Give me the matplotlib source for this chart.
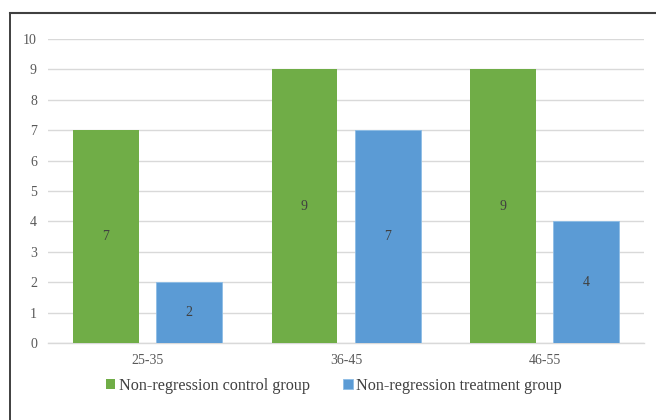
import matplotlib
matplotlib.use('Agg')
from matplotlib import pyplot as plt
from matplotlib.lines import Line2D
import numpy as np

categories = ['25-35', '36-45', '46-55']
control = [7, 9, 9]
treatment = [2, 7, 4]
series_names = ['Non-regression control group', 'Non-regression treatment group']

plt.rcParams['font.family'] = ['Liberation Serif', 'DejaVu Serif']

fig = plt.figure(figsize=(6.56, 4.2), dpi=100)
ax = fig.add_axes([0.0732, 0.1833, 0.9085, 0.7238])

x = np.arange(len(categories))
w = 0.332
off = 0.209
b1 = ax.bar(x - off, control, w, color='#70AD47', label=series_names[0], zorder=3)
b2 = ax.bar(x + off, treatment, w, color='#5B9BD5', edgecolor='#8DBDE6', linewidth=0.6,
            label=series_names[1], zorder=3)

for bars, vals in [(b1, control), (b2, treatment)]:
    for r, v in zip(bars, vals):
        ax.text(r.get_x() + r.get_width() / 2, v / 2, str(v), ha='center', va='center',
                fontsize=10, color='#404040', zorder=4)

ax.set_xlim(-0.5, 2.5)
ax.set_ylim(0, 10)
ax.set_yticks(range(0, 11))
ax.set_xticks(x)
ax.set_xticklabels(categories)
ax.grid(axis='y', color='#d9d9d9', linewidth=1, zorder=0)
for s in ['top', 'right', 'left']:
    ax.spines[s].set_visible(False)
ax.spines['bottom'].set_color('#d9d9d9')
ax.spines['bottom'].set_linewidth(1)
ax.tick_params(axis='both', length=0, labelsize=10, labelcolor='#595959')
ax.tick_params(axis='y', pad=8)
ax.tick_params(axis='x', pad=8)

fig.legend(loc='center', bbox_to_anchor=(0.509, 0.081), ncol=2, frameon=False,
           fontsize=11.6, handlelength=0.6, handleheight=0.6, handletextpad=0.2,
           columnspacing=2.1, labelcolor='#404040')

# outer frame (top and left edges)
fig.add_artist(Line2D([10 / 656, 10 / 656], [0, 1 - 13 / 420], transform=fig.transFigure,
                      color='#303030', linewidth=1.3))
fig.add_artist(Line2D([10 / 656, 1], [1 - 13 / 420, 1 - 13 / 420], transform=fig.transFigure,
                      color='#404040', linewidth=1.5))

fig.savefig('out.png', dpi=100)
